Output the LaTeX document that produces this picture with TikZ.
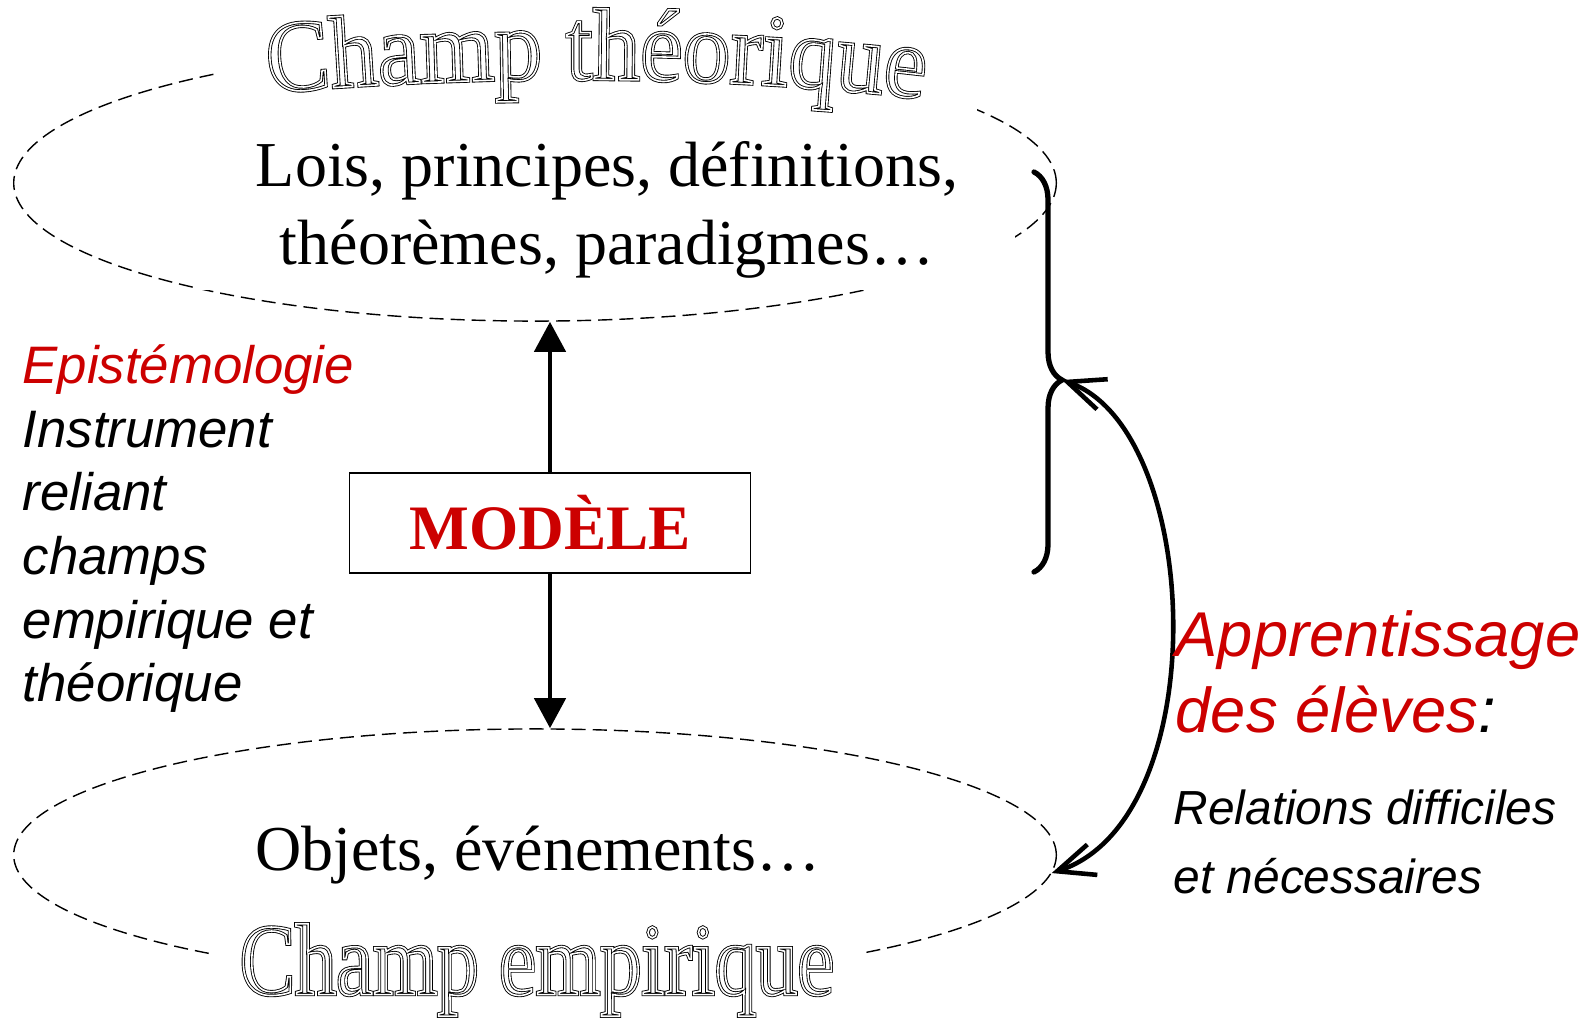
\documentclass[tikz,border=0pt]{standalone}
\usepackage{fontspec}
\setmainfont{Liberation Serif}
\newfontfamily\arialfont{Liberation Sans}
\newfontfamily\theofont[FakeStretch=0.93]{Liberation Serif}
\newfontfamily\empfont[FakeStretch=0.81]{Liberation Serif}
\usetikzlibrary{shapes.geometric,arrows.meta,decorations.pathreplacing,decorations.text}
\definecolor{modelred}{RGB}{204,0,0}

% hollow letters: black outline, then a thinner white stroke inside it
\newcommand{\outerpen}{\special{pdf:literal direct 2 Tr 0.95 w 0 G 1 g}}
\newcommand{\innerpen}{\special{pdf:literal direct 1 Tr 0.45 w 1 G}}
\newcommand{\outerline}[1]{\outerpen#1\special{pdf:literal direct 0 Tr 0 G 0 g}}
\newcommand{\innerline}[1]{\innerpen#1\special{pdf:literal direct 0 Tr 0 G 0 g}}

\tikzset{
  field/.style={ellipse, draw, dash pattern=on 4pt off 2pt, line width=0.4pt, inner sep=0pt, minimum width=10.42cm},
  fieldtext/.style={font=\fontsize{18.2pt}{22.2pt}\selectfont, align=center},
  fieldtitle/.style={inner sep=0pt, font=#1\fontsize{29pt}{30pt}\selectfont},
  archtitle/.style={decorate, decoration={text along path, text align=center, text={|\theofont\fontsize{29pt}{30pt}\selectfont#1|Champ théorique}}},
  modelarrow/.style={line width=1.3pt, -{Triangle[length=0.30cm,width=0.31cm]}},
  learnarrow/.style={line width=1.3pt, {Straight Barb[length=0.37cm,width=0.32cm]}-{Straight Barb[length=0.37cm,width=0.32cm]}},
  sidetext/.style={anchor=north west, inner sep=0pt, align=left, font=\arialfont\itshape#1}
}

\begin{document}
\begin{tikzpicture}[x=0.01cm, y=-0.01cm]
\useasboundingbox (0,0) rectangle (1592,1024);

\node[field, minimum height=2.76cm] (theo) at (535,183) {};
\node[field, minimum height=2.52cm] (emp) at (535,855) {};

\node[fieldtext, fill=white, minimum width=8.16cm, minimum height=1.5cm] (lois) at (607,210) {Lois, principes, définitions,\\théorèmes, paradigmes…};
\node[fieldtext] (objets) at (538,855) {Objets, événements…};

% arched title over the theoretical field
\node[fill=white, minimum width=7.62cm, minimum height=1.05cm] (theoTitle) at (596,65) {};
\coordinate (archL) at (266,93);
\coordinate (archR) at (926,99);
\path[archtitle=\outerpen] (archL) .. controls (480,74) and (720,74) .. (archR);
\path[archtitle=\innerpen] (archL) .. controls (480,74) and (720,74) .. (archR);

\node[fieldtitle=\empfont, fill=white, minimum width=6.55cm, minimum height=0.98cm] (empTitle) at (537,970) {\outerline{Champ empirique}};
\node[fieldtitle=\empfont] at (empTitle) {\innerline{Champ empirique}};

\node[draw, line width=0.45pt, minimum width=4.01cm, minimum height=1.0cm, inner sep=0pt, text=modelred, font=\bfseries\fontsize{18pt}{20pt}\selectfont] (model) at (550,523) {MODÈLE};
\draw[modelarrow] (model.north) -- (model.north |- theo.south);
\draw[modelarrow] (model.south) -- (model.south |- emp.north);

\node[sidetext=\fontsize{15pt}{18.1pt}\selectfont] (episteme) at (22,344) {\textcolor{modelred}{Epistémologie}\\Instrument\\reliant\\champs\\empirique et\\théorique};

\coordinate (braceTop) at (1034,172);
\coordinate (braceBot) at (1034,572);
\coordinate (braceTip) at (1062,380);
\draw[decorate, decoration={brace, amplitude=0.28cm, aspect=0.52}, line width=1.5pt, line cap=round] (braceTop) -- (braceBot);
\draw[learnarrow] (braceTip) .. controls (1203,430) and (1216,819) .. (emp.-2);

\node[sidetext=\fontsize{18pt}{21.6pt}\selectfont] (learning) at (1175,610) {\textcolor{modelred}{Apprentissage}\\\textcolor{modelred}{des élèves}:};
\node[sidetext=\fontsize{13.6pt}{19.6pt}\selectfont] (relations) at (1173,789) {Relations difficiles\\et nécessaires};
\end{tikzpicture}
\end{document}
